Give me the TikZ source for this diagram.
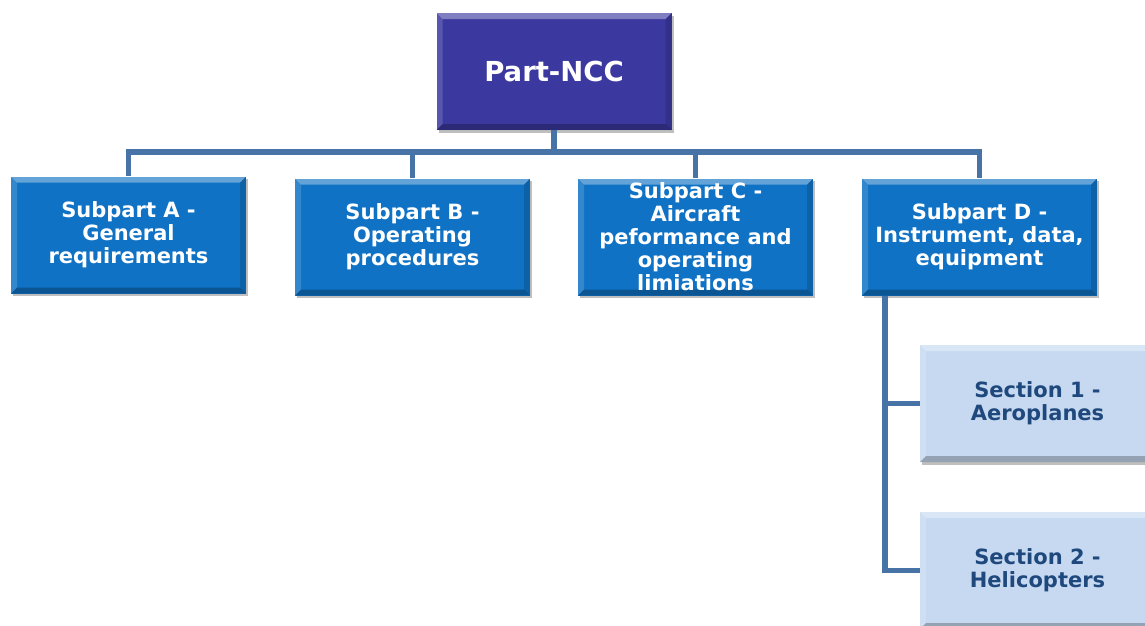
\documentclass[tikz,border=0pt]{standalone}
\usepackage{fontspec}
\setmainfont{DejaVu Sans}
\usetikzlibrary{shadows}
\definecolor{topfill}{RGB}{59,57,160}
\definecolor{subfill}{RGB}{16,114,196}
\definecolor{secfill}{RGB}{198,217,241}
\definecolor{sectext}{RGB}{31,73,125}
\definecolor{linec}{RGB}{72,115,166}
\tikzset{
  bevel/.style={path picture={
    \fill[white,opacity=0.35] (path picture bounding box.north west) -- (path picture bounding box.north east) -- ([xshift=-6pt,yshift=-6pt]path picture bounding box.north east) -- ([xshift=6pt,yshift=-6pt]path picture bounding box.north west) -- cycle;
    \fill[white,opacity=0.15] (path picture bounding box.north west) -- ([xshift=6pt,yshift=-6pt]path picture bounding box.north west) -- ([xshift=6pt,yshift=6pt]path picture bounding box.south west) -- (path picture bounding box.south west) -- cycle;
    \fill[black,opacity=0.25] (path picture bounding box.south west) -- (path picture bounding box.south east) -- ([xshift=-6pt,yshift=6pt]path picture bounding box.south east) -- ([xshift=6pt,yshift=6pt]path picture bounding box.south west) -- cycle;
    \fill[black,opacity=0.15] (path picture bounding box.north east) -- ([xshift=-6pt,yshift=-6pt]path picture bounding box.north east) -- ([xshift=-6pt,yshift=6pt]path picture bounding box.south east) -- (path picture bounding box.south east) -- cycle;
  }},
  boxbase/.style={rectangle, minimum width=235pt, minimum height=117pt, inner sep=0pt, align=center,
    font=\bfseries\fontsize{21}{23}\selectfont, bevel,
    drop shadow={shadow xshift=2pt, shadow yshift=-2.5pt, opacity=0.25, fill=black}},
  topbox/.style={boxbase, fill=topfill, text=white, font=\bfseries\fontsize{27.5}{30}\selectfont},
  subbox/.style={boxbase, fill=subfill, text=white},
  secbox/.style={boxbase, fill=secfill, text=sectext},
  conn/.style={draw=linec, line width=5.5pt}
}
\begin{document}
\begin{tikzpicture}[x=1pt,y=-1pt]
\useasboundingbox (0,0) rectangle (1145,625);
\clip (0,0) rectangle (1145,625);
\coordinate (bus) at (0,152);
\node[topbox] (p) at (554,71.5) {Part-NCC};
\node[subbox] (a) at (128.5,235) {Subpart A -\\General\\requirements};
\node[subbox] (b) at (412.5,237) {Subpart B -\\Operating\\procedures};
\node[subbox] (c) at (695.5,237) {Subpart C -\\Aircraft\\peformance and\\operating\\limiations};
\node[subbox] (d) at (979.5,237) {Subpart D -\\Instrument, data,\\equipment};
\node[secbox] (s1) at (1037.5,403.5) {Section 1 -\\Aeroplanes};
\node[secbox] (s2) at (1037.5,570.5) {Section 2 -\\Helicopters};
\coordinate (dv) at ([xshift=23pt]d.south west);
\draw[conn] (p.south) -- (p.south |- bus) -| (a.north);
\draw[conn] (p.south |- bus) -| (b.north);
\draw[conn] (p.south |- bus) -| (c.north);
\draw[conn] (p.south |- bus) -| (d.north);
\draw[conn] (dv) |- (s1.west);
\draw[conn] (dv) |- (s2.west);
\end{tikzpicture}
\end{document}
